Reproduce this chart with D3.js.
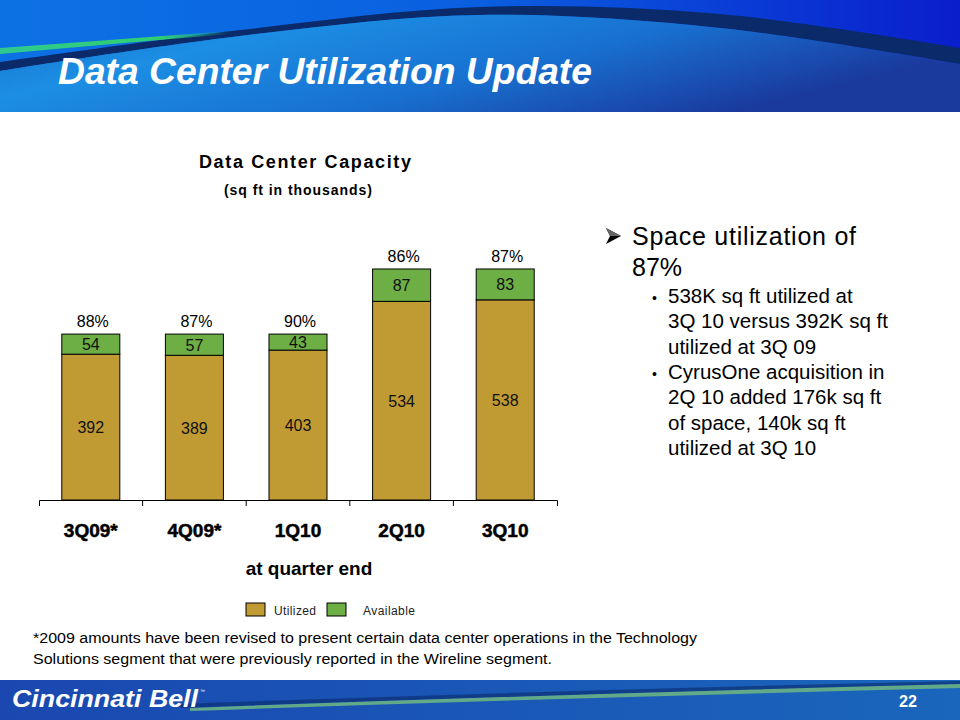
<!DOCTYPE html>
<html>
<head>
<meta charset="utf-8">
<script src="https://cdn.jsdelivr.net/npm/d3@7"></script>
<style>
  html, body { margin: 0; padding: 0; background: #fff; }
  svg { display: block; font-family: Arial, "Liberation Sans", sans-serif; }
</style>
</head>
<body>
<svg id="chart" width="960" height="720"></svg>
<script>
// ---- data ----
const categories = ["3Q09*", "4Q09*", "1Q10", "2Q10", "3Q10"];
const utilized = [392, 389, 403, 534, 538];
const available = [54, 57, 43, 87, 83];
const pctLabels = ["88%", "87%", "90%", "86%", "87%"];
const seriesNames = ["Utilized", "Available"];
const bullets = [
  ["538K sq ft utilized at", "3Q 10 versus 392K sq ft", "utilized at 3Q 09"],
  ["CyrusOne acquisition in", "2Q 10 added 176k sq ft", "of space, 140k sq ft", "utilized at 3Q 10"]
];
const footnote = [
  "*2009 amounts have been revised to present certain data center operations in the Technology",
  "Solutions segment that were previously reported in the Wireline segment."
];

const colUtil = "#C09A32";
const colAvail = "#6DAE45";

const svg = d3.select("#chart");
const defs = svg.append("defs");

// ---- header background ----
const g1 = defs.append("linearGradient").attr("id", "hdrTop").attr("x1", 0).attr("x2", 1).attr("y1", 0).attr("y2", 0);
g1.append("stop").attr("offset", 0).attr("stop-color", "#0c72e4");
g1.append("stop").attr("offset", 0.5).attr("stop-color", "#0a5fe0");
g1.append("stop").attr("offset", 1).attr("stop-color", "#0a1ecc");
const g2 = defs.append("linearGradient").attr("id", "hdrLow").attr("x1", 0).attr("x2", 1).attr("y1", 0).attr("y2", 0.4);
g2.append("stop").attr("offset", 0).attr("stop-color", "#1670c8");
g2.append("stop").attr("offset", 0.3).attr("stop-color", "#1c8ee4");
g2.append("stop").attr("offset", 0.65).attr("stop-color", "#1870d0");
g2.append("stop").attr("offset", 1).attr("stop-color", "#1a3a9e");
const gF = defs.append("linearGradient").attr("id", "ftr").attr("x1", 0).attr("x2", 1).attr("y1", 0).attr("y2", 0);
gF.append("stop").attr("offset", 0).attr("stop-color", "#1a48b0");
gF.append("stop").attr("offset", 1).attr("stop-color", "#1a66bc");
const gG = defs.append("linearGradient").attr("id", "grn").attr("x1", 0).attr("x2", 1).attr("y1", 0).attr("y2", 0);
gG.append("stop").attr("offset", 0).attr("stop-color", "#30c890");
gG.append("stop").attr("offset", 0.7).attr("stop-color", "#2fd070");
gG.append("stop").attr("offset", 1).attr("stop-color", "#2fd070").attr("stop-opacity", 0);

const hdr = svg.append("g");
hdr.append("rect").attr("x", 0).attr("y", 0).attr("width", 960).attr("height", 112).attr("fill", "url(#hdrTop)");
const curve = d3.line().curve(d3.curveCatmullRom);
const upper = [[0, 62], [240, 30], [480, 7], [720, 14], [960, 48]];
const lower = [[0, 71], [240, 36], [480, 15], [720, 28], [960, 64]];
hdr.append("path")
  .attr("d", curve(upper) + "L" + curve(lower.slice().reverse()).slice(1) + "Z")
  .attr("fill", "#0a2a6a");
hdr.append("path")
  .attr("d", curve(lower) + "L960,112L0,112Z")
  .attr("fill", "url(#hdrLow)");
hdr.append("path")
  .attr("d", "M0,48 Q110,40 230,31 L230,34 Q110,44 0,54 Z")
  .attr("fill", "url(#grn)");

hdr.append("text")
  .attr("x", 58).attr("y", 84)
  .attr("fill", "#fff")
  .attr("font-size", 36).attr("font-weight", "bold").attr("font-style", "italic")
  .attr("textLength", 534).attr("lengthAdjust", "spacingAndGlyphs")
  .text("Data Center Utilization Update");

// ---- footer ----
const ftr = svg.append("g");
ftr.append("rect").attr("x", 0).attr("y", 680).attr("width", 960).attr("height", 40).attr("fill", "url(#ftr)");
ftr.append("path").attr("d", "M180,704 Q560,690 960,681 L960,685 Q560,694 180,708 Z").attr("fill", "#0a2a6a").attr("opacity", 0.6);
ftr.append("path").attr("d", "M190,708 Q560,694 960,684 L960,688 Q560,698 190,711 Z").attr("fill", "#62a98a");
ftr.append("text").attr("x", 12).attr("y", 707).attr("fill", "#fff")
  .attr("font-size", 23).attr("font-weight", "bold").attr("font-style", "italic")
  .attr("textLength", 186).attr("lengthAdjust", "spacingAndGlyphs")
  .text("Cincinnati Bell");
ftr.append("text").attr("x", 200).attr("y", 693).attr("fill", "#fff").attr("font-size", 5).text("™");
ftr.append("text").attr("x", 908).attr("y", 707).attr("fill", "#fff").attr("text-anchor", "middle")
  .attr("font-size", 17).attr("font-weight", "bold")
  .attr("textLength", 18).attr("lengthAdjust", "spacingAndGlyphs").text("22");

// ---- chart ----
const x = d3.scaleBand().domain(categories).range([39, 557]).paddingInner(0.44).paddingOuter(0.22);
const y = d3.scaleLinear().domain([0, 700]).range([500, 500 - 700 * 0.372]);

const chart = svg.append("g");
chart.append("text").attr("x", 305).attr("y", 168).attr("text-anchor", "middle")
  .attr("font-size", 18).attr("font-weight", "bold")
  .attr("textLength", 212).attr("lengthAdjust", "spacing").text("Data Center Capacity");
chart.append("text").attr("x", 298).attr("y", 195).attr("text-anchor", "middle")
  .attr("font-size", 14).attr("font-weight", "bold")
  .attr("textLength", 148).attr("lengthAdjust", "spacing").text("(sq ft in thousands)");

const rows = categories.map((c, i) => ({ c, u: utilized[i], a: available[i], p: pctLabels[i] }));

const bars = chart.selectAll("g.bar").data(rows).join("g").attr("class", "bar");
bars.append("rect")
  .attr("x", d => x(d.c)).attr("width", x.bandwidth())
  .attr("y", d => y(d.u)).attr("height", d => y(0) - y(d.u))
  .attr("fill", colUtil).attr("stroke", "#000").attr("stroke-width", 1);
bars.append("rect")
  .attr("x", d => x(d.c)).attr("width", x.bandwidth())
  .attr("y", d => y(d.u + d.a)).attr("height", d => y(d.u) - y(d.u + d.a))
  .attr("fill", colAvail).attr("stroke", "#000").attr("stroke-width", 1);
bars.append("text")
  .attr("x", d => x(d.c) + x.bandwidth() / 2).attr("y", d => (y(0) + y(d.u)) / 2 + 6)
  .attr("text-anchor", "middle").attr("font-size", 16).attr("fill", "#111").text(d => d.u);
bars.append("text")
  .attr("x", d => x(d.c) + x.bandwidth() / 2).attr("y", d => (y(d.u) + y(d.u + d.a)) / 2 + 6)
  .attr("text-anchor", "middle").attr("font-size", 16).attr("fill", "#111").text(d => d.a);
bars.append("text")
  .attr("x", d => x(d.c) + x.bandwidth() / 2 + 2).attr("y", d => y(d.u + d.a) - 7)
  .attr("text-anchor", "middle").attr("font-size", 16).attr("fill", "#000").text(d => d.p);

// axis
const axis = chart.append("g").attr("transform", "translate(0,500)")
  .call(d3.axisBottom(x).tickSize(0).tickSizeOuter(6).tickPadding(33));
axis.select(".domain").attr("stroke", "#000");
axis.selectAll(".tick text").attr("font-size", 19).attr("font-weight", "bold").attr("fill", "#000")
  .attr("stroke", "#000").attr("stroke-width", 0.5)
  .attr("font-family", "Arial, 'Liberation Sans', sans-serif").attr("dy", "0.2em");
axis.selectAll("line.sep").data(categories.slice(1)).join("line").attr("class", "sep")
  .attr("x1", d => x(d) - x.step() * x.paddingInner() / 2).attr("x2", d => x(d) - x.step() * x.paddingInner() / 2)
  .attr("y1", 0).attr("y2", 6).attr("stroke", "#000");

chart.append("text").attr("x", 309).attr("y", 575).attr("text-anchor", "middle")
  .attr("font-size", 19).attr("font-weight", "bold").text("at quarter end");

// legend
const legend = chart.append("g");
const legX = [246, 327];
const legTextX = [274, 363];
seriesNames.forEach((n, i) => {
  legend.append("rect").attr("x", legX[i]).attr("y", 603).attr("width", 19).attr("height", 13)
    .attr("fill", i === 0 ? colUtil : colAvail).attr("stroke", "#000").attr("stroke-width", 1);
  legend.append("text").attr("x", legTextX[i]).attr("y", 615).attr("font-size", 12)
    .attr("fill", "#222").attr("textLength", i === 0 ? 42 : 52).attr("lengthAdjust", "spacing").text(n);
});

// footnote
footnote.forEach((t, i) => {
  svg.append("text").attr("x", 33).attr("y", 643 + i * 21).attr("font-size", 14).attr("fill", "#000")
    .attr("textLength", i === 0 ? 664 : 519).attr("lengthAdjust", "spacingAndGlyphs").text(t);
});

// ---- right-hand text ----
const rt = svg.append("g");
rt.append("path").attr("d", "M606,228 L621,236 L606,244 L610,236 Z").attr("fill", "#000");
rt.append("path").attr("d", "M606,228 L621,236 L610,236 Z").attr("fill", "#666");
rt.append("text").attr("x", 632).attr("y", 245).attr("font-size", 25).attr("fill", "#000")
  .attr("textLength", 224).attr("lengthAdjust", "spacing").text("Space utilization of");
rt.append("text").attr("x", 632).attr("y", 276).attr("font-size", 25).attr("fill", "#000").text("87%");
let ly = 303;
bullets.forEach(lines => {
  rt.append("text").attr("x", 652).attr("y", ly).attr("font-size", 14).attr("fill", "#000").text("•");
  lines.forEach(l => {
    rt.append("text").attr("x", 668).attr("y", ly).attr("font-size", 20.5).attr("fill", "#000").text(l);
    ly += 25.3;
  });
});
</script>
</body>
</html>
